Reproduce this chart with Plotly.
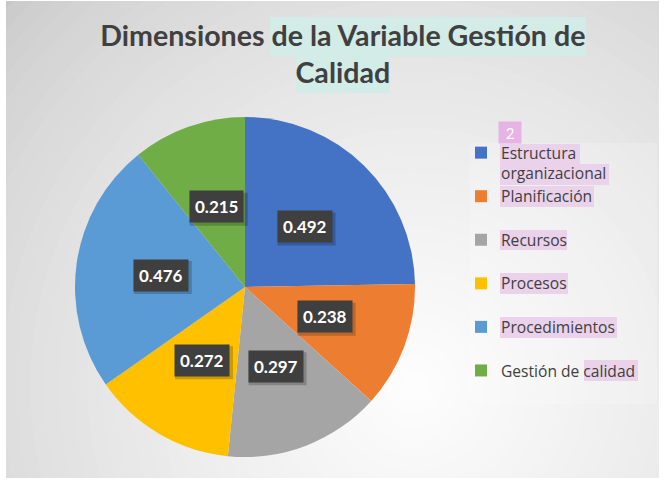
import math
import plotly.graph_objects as go

# ---- data ----
categories = ["Estructura organizacional", "Planificación", "Recursos",
              "Procesos", "Procedimientos", "Gestión de calidad"]
values = [0.492, 0.238, 0.297, 0.272, 0.476, 0.215]
colors = ["#4472C4", "#ED7D31", "#A5A5A5", "#FFC000", "#5B9BD5", "#70AD47"]
legend_labels = ["Estructura<br>organizacional", "Planificación<br>\u00a0",
                 "Recursos<br>\u00a0", "Procesos<br>\u00a0",
                 "Procedimientos<br>\u00a0", "Gestión de calidad"]
title_text = "Dimensiones de la Variable Gestión de<br>Calidad"

W, H = 667, 481

def px(x):
    return x / W

def py(y):
    return 1 - y / H

# pie geometry (pixels)
CX, CY, R = 245, 287, 170

fig = go.Figure()
fig.add_trace(go.Pie(
    labels=legend_labels,
    values=values,
    sort=False,
    direction="clockwise",
    rotation=0,
    marker=dict(colors=colors, line=dict(width=0)),
    textinfo="none",
    hovertext=categories,
    hoverinfo="text+value",
    domain=dict(x=[px(CX - R), px(CX + R)], y=[py(CY + R), py(CY - R)]),
    showlegend=True,
))

shapes = []
# radial gradient background
GX, GY = 415, 385
c0, c1 = 200, 254
DMAX = 570
shapes.append(dict(type="rect", xref="paper", yref="paper", layer="below",
                   x0=0, x1=1, y0=0, y1=1, fillcolor=f"rgb({c0},{c0},{c0})",
                   line=dict(width=0)))
N = 40
for i in range(N):
    r = DMAX * (1 - i / N)
    t = (1 - r / DMAX) ** 0.7
    c = int(round(c0 + (c1 - c0) * t))
    col = f"rgb({c},{c},{c})"
    shapes.append(dict(type="circle", xref="paper", yref="paper", layer="below",
                       x0=px(GX - r), x1=px(GX + r), y0=py(GY + r), y1=py(GY - r),
                       fillcolor=col, line=dict(width=0)))
# white border strips
for (x0, y0, x1, y1) in [(0, 0, 6, H), (659, 0, W, H), (0, 478, W, H), (0, 0, W, 1)]:
    shapes.append(dict(type="rect", xref="paper", yref="paper", layer="below",
                       x0=px(x0), x1=px(x1), y0=py(y1), y1=py(y0),
                       fillcolor="white", line=dict(width=0)))
# subtle plot-area box behind legend
shapes.append(dict(type="rect", xref="paper", yref="paper", layer="below",
                   x0=px(470), x1=px(657), y0=py(404), y1=py(143),
                   fillcolor="rgba(255,255,255,0.18)", line=dict(width=0)))
# title highlights
for (x0, y0, x1, y1) in [(270, 17, 586, 56), (296, 56, 390, 93)]:
    shapes.append(dict(type="rect", xref="paper", yref="paper", layer="below",
                       x0=px(x0), x1=px(x1), y0=py(y1), y1=py(y0),
                       fillcolor="#D4ECE7", line=dict(width=0)))
# legend text highlights
for (x0, y0, x1, y1) in [(500, 144, 580, 164), (500, 164, 609, 185), (500, 186, 594, 207),
                         (500, 230, 567, 250), (500, 273, 568, 294), (500, 317, 617, 338),
                         (584, 360, 638, 381)]:
    shapes.append(dict(type="rect", xref="paper", yref="paper", layer="below",
                       x0=px(x0), x1=px(x1), y0=py(y1), y1=py(y0),
                       fillcolor="#EAD2EA", line=dict(width=0)))

# data label annotations positioned from slice mid-angles
annotations = []
total = sum(values)
cum = 0.0
for v in values:
    mid = (cum + v / 2) / total
    cum += v
    th = 2 * math.pi * mid
    rr = 0.5 * R
    x = CX + rr * math.sin(th)
    y = CY - rr * math.cos(th)
    # soft shadow behind the label box
    shapes.append(dict(type="rect", xref="paper", yref="paper", layer="above",
                       x0=px(x - 27), x1=px(x + 31), y0=py(y + 19), y1=py(y - 14),
                       fillcolor="rgba(0,0,0,0.2)", line=dict(width=0)))
    annotations.append(dict(x=px(x), y=py(y), xref="paper", yref="paper",
                            xanchor="center", yanchor="middle",
                            text=f"<b>{v:.3f}</b>", showarrow=False,
                            font=dict(family="Lato", size=17, color="white"),
                            bgcolor="#3F3F3F", borderpad=5))
annotations.append(dict(x=px(510), y=py(132), xref="paper", yref="paper",
                        xanchor="center", yanchor="middle",
                        text="2", showarrow=False,
                        font=dict(family="Lato", size=15, color="white"),
                        bgcolor="#E6B3E4", borderpad=1, width=20, height=19))

fig.update_layout(
    width=W, height=H,
    margin=dict(l=0, r=0, t=0, b=0),
    paper_bgcolor="white",
    plot_bgcolor="white",
    title=dict(text=title_text, x=0.514, xanchor="center", y=py(46), yanchor="top",
               font=dict(family="Lato", size=28.6, color="#404040", weight="bold")),
    legend=dict(x=px(461), xanchor="left", y=py(136), yanchor="top",
                font=dict(family="Open Sans", size=15.6, color="#404040"),
                bgcolor="rgba(0,0,0,0)", valign="top", tracegroupgap=0),
    shapes=shapes,
    annotations=annotations,
)

fig.write_html("out.html", config={"displayModeBar": False},
               post_script="document.body.style.margin='0';document.body.style.overflow='hidden';")
